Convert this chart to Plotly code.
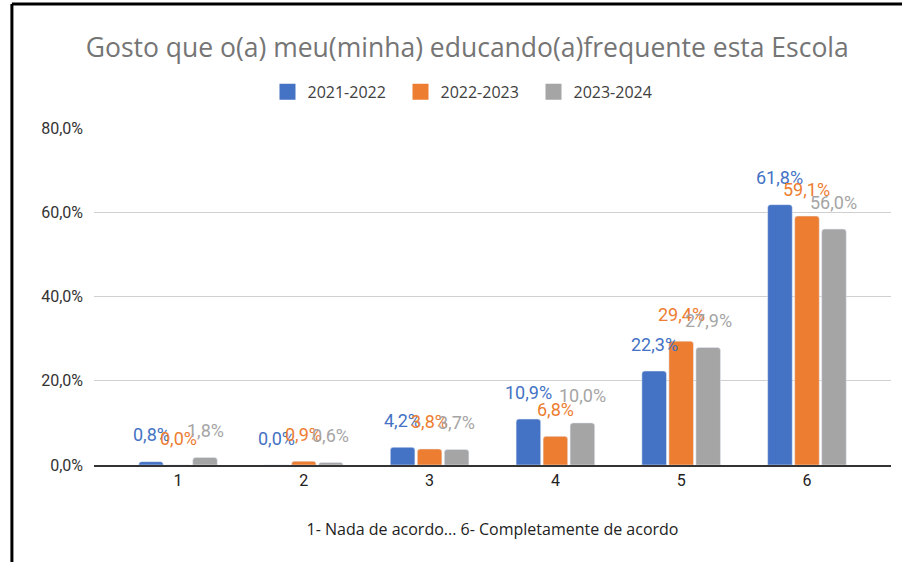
import plotly.graph_objects as go

categorias = ["1", "2", "3", "4", "5", "6"]
anos = ["2021-2022", "2022-2023", "2023-2024"]
v_2021 = [0.008, 0.000, 0.042, 0.109, 0.223, 0.618]
v_2022 = [0.000, 0.009, 0.038, 0.068, 0.294, 0.591]
v_2023 = [0.018, 0.006, 0.037, 0.100, 0.279, 0.560]
cores = ["#4472C4", "#ED7D31", "#A5A5A5"]

desloc = 27  # distancia entre barras do mesmo grupo (px)

fig = go.Figure()
for i, (nome, vals, cor) in enumerate(zip(anos, [v_2021, v_2022, v_2023], cores)):
    fig.add_trace(go.Bar(
        x=categorias, y=vals, name=nome, showlegend=False,
        marker=dict(color=cor, cornerradius=3),
    ))
    # entrada da legenda com quadrado maior
    fig.add_trace(go.Scatter(
        x=[None], y=[None], mode="markers", name=nome,
        marker=dict(symbol="square", size=17, color=cor),
    ))
    # rotulos de dados, mais afastados das barras como no Excel
    # (no eixo de categorias a anotacao usa o indice da categoria)
    for j, v in enumerate(vals):
        fig.add_annotation(
            x=j, y=v, text=f"{v * 100:.1f}%".replace(".", ","),
            showarrow=False, xshift=(i - 1) * desloc, yshift=27,
            yanchor="middle", font=dict(color=cor, size=18, family="Roboto"),
        )

# moldura preta (esquerda e topo) como na captura
fig.add_shape(type="line", xref="paper", yref="paper",
              x0=-0.103, x1=-0.103, y0=-0.3, y1=1.368,
              line=dict(color="black", width=3))
fig.add_shape(type="line", xref="paper", yref="paper",
              x0=-0.103, x1=1.02, y0=1.368, y1=1.368,
              line=dict(color="black", width=3))

fig.update_layout(
    width=902, height=562,
    margin=dict(l=94, r=11, t=128, b=97),
    plot_bgcolor="white", paper_bgcolor="white",
    separators=", ",
    barmode="group", bargap=0.356, bargroupgap=0.09,
    title=dict(text="Gosto que o(a) meu(minha) educando(a)frequente esta Escola",
               x=0.518, xanchor="center", y=0.915, yanchor="middle",
               font=dict(size=26.5, color="#757575", family="Open Sans")),
    legend=dict(orientation="h", x=0.468, xanchor="center", y=1.107, yanchor="middle",
                font=dict(size=16, color="#404040", family="Open Sans"),
                itemwidth=30, entrywidth=88, traceorder="normal"),
    font=dict(family="Roboto", color="#404040"),
)
fig.update_xaxes(
    range=[-0.668, 5.668],
    showline=True, linecolor="#333333", linewidth=1.5,
    tickfont=dict(size=16, color="#222222"),
    title=dict(text="1- Nada de acordo... 6- Completamente de acordo",
               font=dict(size=16, color="#222222", family="Open Sans"), standoff=35),
)
fig.update_yaxes(
    range=[0, 0.8], dtick=0.2, tickformat=".1%",
    gridcolor="#d0d0d0", gridwidth=1, zeroline=False,
    tickfont=dict(size=16, color="#333333"), ticklabelstandoff=10,
)

fig.write_html("out.html", config={"displayModeBar": False},
               post_script="document.body.style.margin='0';")
